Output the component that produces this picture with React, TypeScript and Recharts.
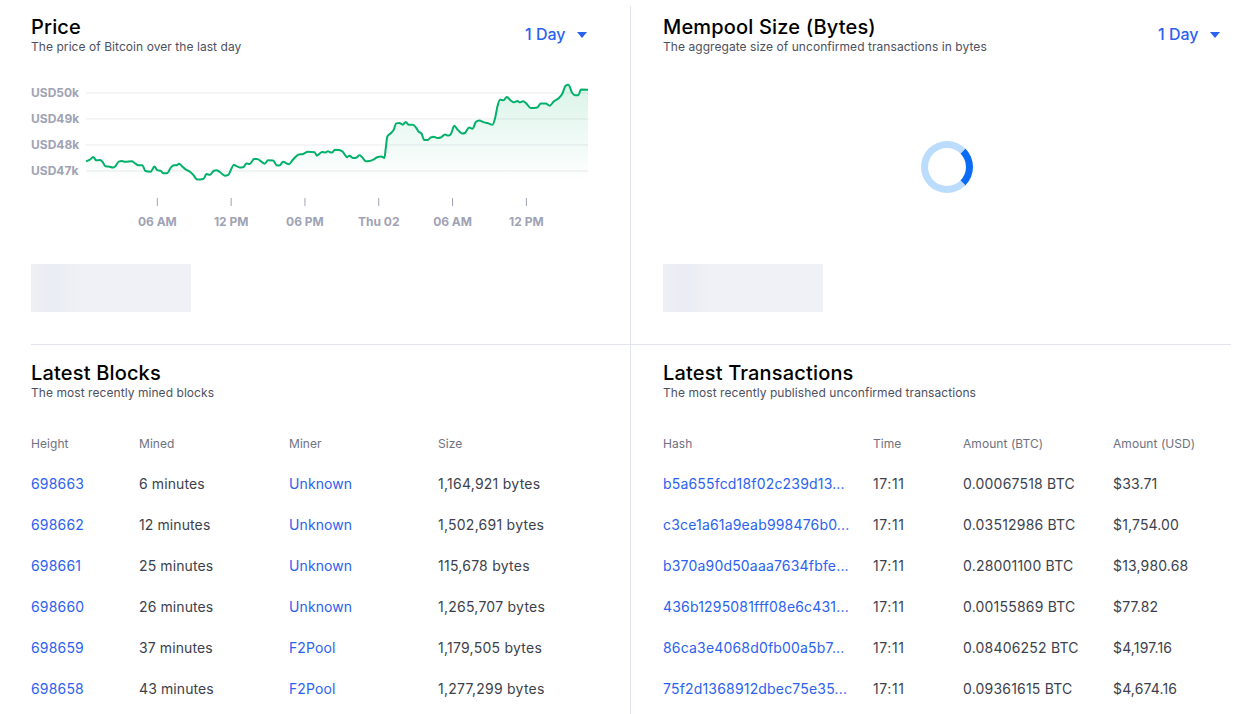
import { Area, AreaChart, CartesianGrid, Pie, PieChart, Cell, XAxis, YAxis } from "recharts";

// hours since midnight on the first day
const hours = [
  0.2, 0.54, 0.78, 1.03, 1.35, 1.57, 1.78, 2.05, 2.38, 2.59, 2.86, 3.11, 3.41, 3.92, 4.19, 4.46, 4.78, 5.03, 5.46, 5.76,
  6.0, 6.27, 6.51, 6.78, 7.11, 7.35, 7.57, 7.76, 8.03, 8.3, 8.65, 8.92, 9.24, 9.73, 10.0, 10.27, 10.59, 10.81, 11.08, 11.49,
  11.76, 12.22, 12.7, 12.97, 13.24, 13.51, 13.86, 14.11, 14.73, 15.0, 15.41, 15.73, 15.95, 16.22, 16.7, 17.03, 17.51, 17.84, 18.24, 18.78,
  18.97, 19.19, 19.41, 19.68, 19.86, 20.05, 20.22, 20.43, 20.76, 21.03, 21.22, 21.43, 21.62, 21.89, 22.16, 22.43, 22.7, 22.95, 23.24, 23.57,
  23.92, 24.19, 24.46, 24.57, 24.7, 25.0, 25.22, 25.41, 25.68, 25.95, 26.19, 26.43, 26.76, 27.03, 27.24, 27.46, 27.7, 27.97, 28.24, 28.46,
  28.78, 29.05, 29.38, 29.65, 29.86, 30.14, 30.41, 30.81, 31.0, 31.35, 31.62, 31.89, 32.16, 32.57, 32.97, 33.24, 33.46, 33.65, 33.86, 34.14,
  34.41, 34.73, 35.0, 35.27, 35.46, 35.73, 35.95, 36.35, 36.89, 37.16, 37.57, 37.89, 38.24, 38.65, 38.92, 39.19, 39.41, 39.73, 40.0, 40.22,
  40.43, 41.01,
];
// thousands of USD
const prices = [
  47.37, 47.44, 47.54, 47.41, 47.42, 47.33, 47.18, 47.17, 47.13, 47.18, 47.36, 47.38, 47.35, 47.37, 47.29, 47.22, 47.22, 47.0, 46.97, 47.17,
  47.03, 47.0, 46.91, 46.91, 47.14, 47.22, 47.22, 47.28, 47.17, 47.06, 46.97, 46.85, 46.67, 46.69, 46.88, 46.85, 47.01, 47.03, 46.96, 46.82,
  46.85, 47.23, 47.13, 47.14, 47.29, 47.27, 47.46, 47.46, 47.28, 47.41, 47.4, 47.21, 47.22, 47.35, 47.26, 47.44, 47.63, 47.65, 47.74, 47.72,
  47.59, 47.67, 47.73, 47.71, 47.76, 47.72, 47.71, 47.82, 47.81, 47.76, 47.64, 47.53, 47.59, 47.5, 47.51, 47.6, 47.5, 47.37, 47.38, 47.44,
  47.54, 47.56, 47.5, 47.88, 48.33, 48.46, 48.59, 48.83, 48.85, 48.78, 48.88, 48.78, 48.78, 48.67, 48.51, 48.45, 48.19, 48.19, 48.29, 48.32,
  48.27, 48.29, 48.4, 48.36, 48.42, 48.74, 48.59, 48.44, 48.46, 48.67, 48.62, 48.88, 48.94, 48.87, 48.82, 48.78, 49.04, 49.49, 49.74, 49.72,
  49.85, 49.71, 49.64, 49.69, 49.64, 49.68, 49.62, 49.42, 49.44, 49.6, 49.6, 49.51, 49.68, 49.81, 49.97, 50.28, 50.32, 50.0, 49.91, 49.91,
  50.13, 50.12,
];
const priceData = hours.map((h, i) => ({ h, price: prices[i] }));

const xTicks = [6, 12, 18, 24, 30, 36];
const xLabels: Record<number, string> = { 6: "06 AM", 12: "12 PM", 18: "06 PM", 24: "Thu 02", 30: "06 AM", 36: "12 PM" };
const yTicks = [47, 48, 49, 50];

const spinner = [
  { name: "active", share: 25 },
  { name: "rest", share: 75 },
];
const spinnerColors = ["#0a6cf5", "#bcdcfd"];

const blockHeaders = ["Height", "Mined", "Miner", "Size"];
const blockHeights = ["698663", "698662", "698661", "698660", "698659", "698658"];
const blockMined = ["6 minutes", "12 minutes", "25 minutes", "26 minutes", "37 minutes", "43 minutes"];
const blockMiners = ["Unknown", "Unknown", "Unknown", "Unknown", "F2Pool", "F2Pool"];
const blockSizes = ["1,164,921 bytes", "1,502,691 bytes", "115,678 bytes", "1,265,707 bytes", "1,179,505 bytes", "1,277,299 bytes"];

const txHeaders = ["Hash", "Time", "Amount (BTC)", "Amount (USD)"];
const txHashes = [
  "b5a655fcd18f02c239d13...",
  "c3ce1a61a9eab998476b0...",
  "b370a90d50aaa7634fbfe...",
  "436b1295081fff08e6c431...",
  "86ca3e4068d0fb00a5b7...",
  "75f2d1368912dbec75e35...",
];
const txTimes = ["17:11", "17:11", "17:11", "17:11", "17:11", "17:11"];
const txBtc = ["0.00067518 BTC", "0.03512986 BTC", "0.28001100 BTC", "0.00155869 BTC", "0.08406252 BTC", "0.09361615 BTC"];
const txUsd = ["$33.71", "$1,754.00", "$13,980.68", "$77.82", "$4,197.16", "$4,674.16"];

const rowY = [484, 525, 566, 607, 648, 689];
const blue = "#2b62f0";
const ink = "#3c3f4c";
const FONT = "Inter, sans-serif";

function Txt({ x, y, size, color, weight, spacing, children }: any) {
  return (
    <div
      style={{
        position: "absolute",
        left: x,
        top: y,
        transform: "translateY(-50%)",
        fontSize: size,
        color,
        fontWeight: weight || 400,
        letterSpacing: spacing || 0,
        whiteSpace: "nowrap",
        lineHeight: 1,
      }}
    >
      {children}
    </div>
  );
}

function Heading({ x, y, title, sub }: any) {
  return (
    <>
      <Txt x={x} y={y} size={20} color="#000" weight={500} spacing={0.17}>{title}</Txt>
      <Txt x={x} y={y + 20} size={12} color="#4d5060" spacing={0.06}>{sub}</Txt>
    </>
  );
}

function DayPicker({ x }: { x: number }) {
  return (
    <>
      <Txt x={x} y={34} size={16} color={blue} weight={500}>1 Day</Txt>
      <div
        style={{
          position: "absolute",
          left: x + 52,
          top: 32,
          width: 0,
          height: 0,
          borderLeft: "5.5px solid transparent",
          borderRight: "5.5px solid transparent",
          borderTop: "6px solid " + blue,
        }}
      />
    </>
  );
}

function Skeleton({ x }: { x: number }) {
  return (
    <div
      style={{
        position: "absolute",
        left: x,
        top: 264,
        width: 160,
        height: 48,
        background: "linear-gradient(90deg, #eef0f4 0%, #e9ecf3 12%, #f0f1f6 32%, #f0f1f6 100%)",
      }}
    />
  );
}

function Table({ cols, headers, columns }: { cols: number[]; headers: string[]; columns: { vals: string[]; color: string; spacing: number }[] }) {
  return (
    <>
      {headers.map((h, i) => (
        <Txt key={h} x={cols[i]} y={444} size={12} color="#6e7180" spacing={0.06}>{h}</Txt>
      ))}
      {columns.map((c, i) =>
        c.vals.map((v, r) => (
          <Txt key={i + "-" + r} x={cols[i]} y={rowY[r]} size={14} color={c.color} spacing={c.spacing}>{v}</Txt>
        ))
      )}
    </>
  );
}

export default function App() {
  return (
    <div style={{ position: "absolute", left: 0, top: 0, width: 1243, height: 714, overflow: "hidden", background: "#fff", fontFamily: FONT }}>
      <div style={{ position: "absolute", left: 630, top: 6, width: 1, height: 708, background: "#e2e5ec" }} />
      <div style={{ position: "absolute", left: 31, top: 344, width: 1200, height: 1, background: "#e2e5ec" }} />

      <Heading x={31} y={27} title="Price" sub="The price of Bitcoin over the last day" />
      <DayPicker x={525} />
      <div style={{ position: "absolute", left: 0, top: 0 }}>
        <AreaChart width={620} height={240} data={priceData} margin={{ top: 67, right: 32, bottom: 0, left: 0 }}>
          <defs>
            <linearGradient id="priceFill" x1="0" y1="0" x2="0" y2="1">
              <stop offset="0%" stopColor="#00b16a" stopOpacity={0.24} />
              <stop offset="86%" stopColor="#00b16a" stopOpacity={0} />
            </linearGradient>
          </defs>
          <CartesianGrid vertical={false} stroke="#e9ebef" syncWithTicks />
          <XAxis
            dataKey="h"
            type="number"
            domain={[0.2, 41.01]}
            ticks={xTicks}
            tickFormatter={(h: number) => xLabels[h]}
            axisLine={false}
            tickLine={{ stroke: "#9ea2b4" }}
            tickSize={8}
            tickMargin={11}
            height={42}
            tick={{ fontSize: 12, fontWeight: 700, fill: "#9fa3b5", fontFamily: FONT }}
          />
          <YAxis
            domain={[45.96, 51]}
            ticks={yTicks}
            tickFormatter={(v: number) => "USD" + v + "k"}
            axisLine={false}
            tickLine={false}
            width={86}
            tickMargin={1}
            tick={{ fontSize: 12, fontWeight: 700, fill: "#9fa3b5", fontFamily: FONT, textAnchor: "start", dx: -48 }}
          />
          <Area
            type="monotone"
            dataKey="price"
            stroke="#00b16a"
            strokeWidth={2}
            fill="url(#priceFill)"
            dot={false}
            activeDot={false}
            isAnimationActive={false}
          />
        </AreaChart>
      </div>
      <Skeleton x={31} />

      <Heading x={663} y={27} title="Mempool Size (Bytes)" sub="The aggregate size of unconfirmed transactions in bytes" />
      <DayPicker x={1158} />
      <div style={{ position: "absolute", left: 917, top: 137 }}>
        <PieChart width={60} height={60} margin={{ top: 0, right: 0, bottom: 0, left: 0 }}>
          <Pie
            data={spinner}
            dataKey="share"
            cx={30}
            cy={30}
            innerRadius={19}
            outerRadius={26}
            startAngle={45}
            endAngle={-315}
            stroke="none"
            isAnimationActive={false}
          >
            {spinner.map((s, i) => (
              <Cell key={s.name} fill={spinnerColors[i]} />
            ))}
          </Pie>
        </PieChart>
      </div>
      <Skeleton x={663} />

      <Heading x={31} y={373} title="Latest Blocks" sub="The most recently mined blocks" />
      <Table
        cols={[31, 139, 289, 438]}
        headers={blockHeaders}
        columns={[
          { vals: blockHeights, color: blue, spacing: 0.17 },
          { vals: blockMined, color: ink, spacing: 0.1 },
          { vals: blockMiners, color: blue, spacing: 0.1 },
          { vals: blockSizes, color: ink, spacing: 0.25 },
        ]}
      />

      <Heading x={663} y={373} title="Latest Transactions" sub="The most recently published unconfirmed transactions" />
      <Table
        cols={[663, 873, 963, 1113]}
        headers={txHeaders}
        columns={[
          { vals: txHashes, color: blue, spacing: 0.18 },
          { vals: txTimes, color: ink, spacing: 0.6 },
          { vals: txBtc, color: ink, spacing: 0.2 },
          { vals: txUsd, color: ink, spacing: 0.15 },
        ]}
      />
    </div>
  );
}
